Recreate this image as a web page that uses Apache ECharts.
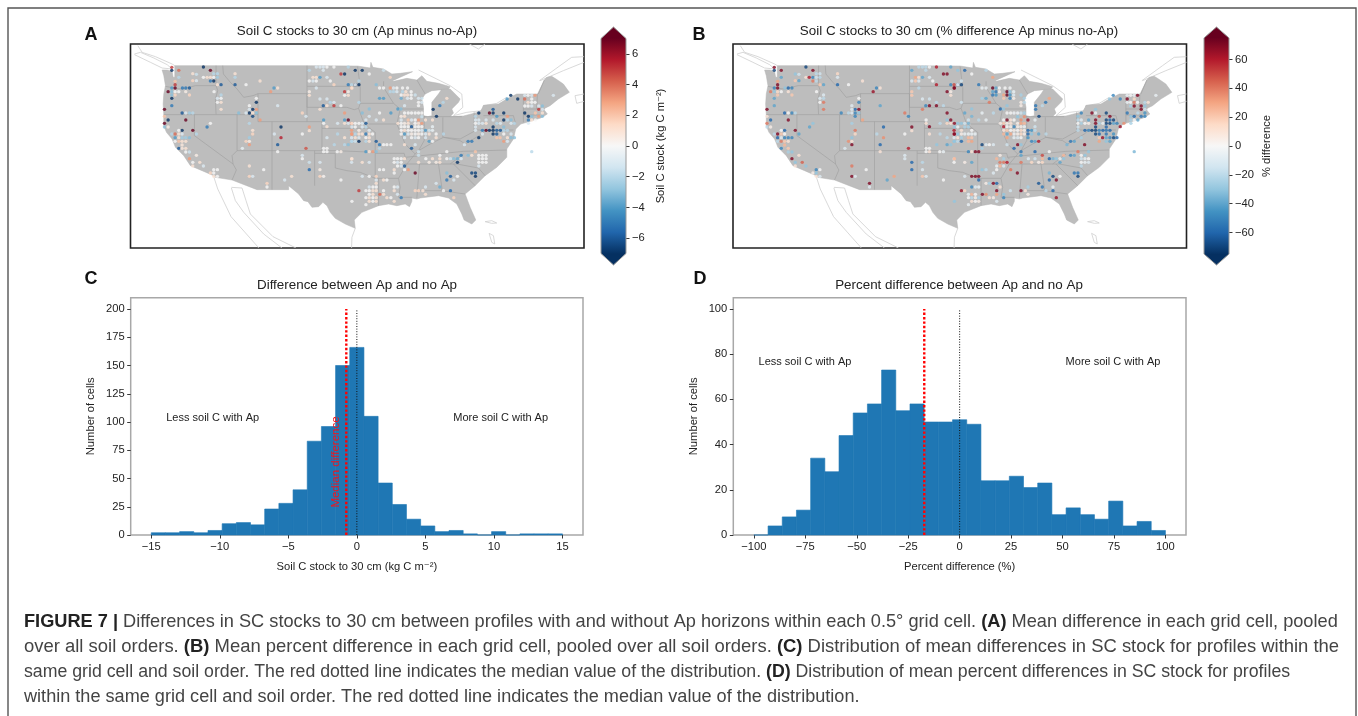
<!DOCTYPE html>
<html><head><meta charset="utf-8">
<style>html,body{margin:0;padding:0;background:#fff}#c{width:1358px;height:716px}</style>
<script src="https://cdn.jsdelivr.net/npm/echarts@6/dist/echarts.min.js"></script>
</head><body><div id="c"></div>
<script>
// ---------- DATA ----------
const histCountsC=[2,2,3,2,4,10,11,9,23,28,40,83,96,150,166,105,46,27,14,8,3,4,1,0,3,0,1,1,1];
const histCountsD=[0,4,8,11,34,28,44,54,58,73,55,58,50,50,51,49,24,24,26,21,23,9,12,9,7,15,4,6,2];
const histRangeC=[-15,15], histRangeD=[-100,100];
const medianC=-0.77, medianD=-17.2;
const xTicksC=[-15,-10,-5,0,5,10,15], yTicksC=[0,25,50,75,100,125,150,175,200];
const xTicksD=[-100,-75,-50,-25,0,25,50,75,100], yTicksD=[0,20,40,60,80,100];
const cbTicksA=[-6,-4,-2,0,2,4,6], cbTicksB=[-60,-40,-20,0,20,40,60];
const rdbu=['#053061','#2166ac','#4393c3','#92c5de','#d1e5f0','#f7f7f7','#fddbc7','#f4a582','#d6604d','#b2182b','#67001f'];
// map geometry, in map units of the panel (1362 x 612)
const landOutline=[[133,65],[530,65],[682,66],[720,72],[722,55],[728,70],[760,75],[785,90],[810,88],[847,83],[787,110],[790,112],[830,103],[860,108],[875,95],[890,112],[925,118],[960,128],[955,135],[905,140],[885,150],[875,165],[880,190],[880,215],[893,218],[905,215],[905,175],[925,150],[935,135],[960,135],[990,165],[985,175],[965,195],[970,207],[960,218],[1000,216],[1050,203],[1058,190],[1060,184],[1105,180],[1130,165],[1160,150],[1222,150],[1225,145],[1243,108],[1250,100],[1265,97],[1278,105],[1300,120],[1318,145],[1285,165],[1260,185],[1240,195],[1252,210],[1232,222],[1190,235],[1172,240],[1157,255],[1150,285],[1130,315],[1130,340],[1100,370],[1065,395],[1035,425],[1005,450],[1020,490],[1037,528],[1025,540],[1002,528],[995,510],[980,480],[955,462],[925,455],[870,462],[860,465],[845,462],[845,472],[838,488],[825,480],[800,485],[775,480],[745,485],[695,505],[672,528],[675,553],[645,540],[615,523],[600,505],[590,485],[578,475],[565,488],[545,490],[533,473],[520,470],[505,450],[475,425],[475,437],[425,437],[380,437],[305,408],[255,400],[245,393],[215,380],[180,365],[160,335],[135,310],[125,285],[108,265],[100,245],[100,210],[98,180],[100,150],[105,125],[100,95],[95,78],[110,78],[125,82],[128,100],[133,100]];
const stateLines=[
[[105,127],[135,133],[155,135],[195,125],[257,125]],
[[257,65],[257,125],[262,140],[255,165],[257,211]],
[[100,212],[383,212]],
[[277,65],[279,90],[300,115],[320,135],[340,160],[368,155],[383,149]],
[[383,149],[383,233],[530,233],[530,149],[383,149]],
[[530,65],[530,190]],
[[530,127],[688,127]],
[[530,190],[650,190],[672,197],[685,193]],
[[530,233],[575,233],[575,253],[720,253]],
[[575,253],[575,320]],
[[192,212],[192,275],[308,360],[318,378],[305,408]],
[[320,212],[320,320],[305,335],[308,360]],
[[320,320],[553,320],[618,320],[735,325]],
[[425,233],[425,437]],
[[553,320],[553,425]],
[[553,328],[615,328],[615,372],[650,380],[690,385],[735,403]],
[[682,68],[690,130],[690,178],[685,193],[700,235],[715,250],[735,265],[735,403]],
[[735,403],[805,403]],
[[745,403],[745,485]],
[[690,178],[790,178]],
[[715,240],[800,240]],
[[760,112],[760,130],[790,178],[810,195],[800,240],[825,300],[855,330],[830,360],[805,403],[810,430],[805,460],[845,460]],
[[810,195],[880,195]],
[[882,215],[882,290],[865,320]],
[[855,330],[865,320],[900,300],[940,280],[990,290],[1005,300]],
[[735,328],[822,328],[825,340],[830,345]],
[[825,340],[1000,322],[1130,318]],
[[825,360],[980,360]],
[[960,360],[1000,330]],
[[868,360],[860,462]],
[[925,360],[935,430],[935,440]],
[[862,440],[935,440],[1005,450]],
[[970,360],[1035,425]],
[[980,360],[1045,372],[1065,395]],
[[938,220],[938,280]],
[[880,218],[995,218]],
[[1032,205],[1032,262]],
[[940,280],[990,285],[1032,262]],
[[1005,300],[1055,270],[1072,255]],
[[1032,258],[1150,258]],
[[1060,215],[1150,215],[1157,240]],
[[1180,160],[1180,235]],
[[1222,150],[1220,195]],
[[1180,195],[1245,195]],
[[1180,213],[1230,213]],
[[1225,150],[1243,108]],
[[860,108],[885,150]]
];
const coastLines=[
[[22,5],[35,25],[75,38],[125,60],[133,65]],
[[12,30],[30,25],[70,42],[110,62],[125,75],[95,72],[60,55],[12,32]],
[[250,398],[262,435],[302,518],[382,608],[385,612]],
[[303,430],[335,432],[347,470],[360,510],[428,578],[497,612]],
[[303,432],[315,470],[340,505],[400,570],[455,612]],
[[675,553],[665,580],[664,612]],
[[865,78],[960,125],[995,150],[998,190],[970,215],[1010,205],[1055,200],[1060,185],[1100,178],[1130,160]],
[[1228,110],[1290,65],[1325,40],[1362,38]],
[[1230,110],[1300,80],[1362,55]],
[[1018,0],[1045,15],[1065,0]],
[[1362,150],[1335,155],[1340,178],[1362,172]],
[[1065,533],[1085,530],[1100,537],[1085,538],[1065,533]],
[[1077,568],[1090,575],[1094,600],[1085,595],[1077,568]]
];
// grid-cell means: [map x, map y, value]
const pointsAWest=[[124,70,5],[124,79,-7],[145,79,4],[219,69,-7],[240,79,7],[187,89,1],[198,91,-1.5],[250,89,-2],[261,89,-2],[219,100,0],[230,100,1],[240,100,1],[250,100,0],[261,100,-2.5],[187,110,1.5],[198,110,-1],[240,111,-5],[250,111,-7],[145,100,-2],[134,112,2],[134,122,5],[272,122,-6],[261,122,1],[124,132,-4],[134,132,7],[156,132,-5],[166,132,-5],[177,132,-6],[113,143,7],[124,143,-3],[134,143,0],[145,143,0],[166,143,0.5],[124,153,-3],[124,163,-7],[134,153,1.5],[177,153,1.5],[251,143,0],[272,153,-2],[261,163,-1],[272,163,0],[261,175,0],[272,175,1],[124,185,-5],[272,196,1],[102,196,7],[155,207,-6],[166,207,-1],[177,207,-2.5],[187,207,-2],[102,217,2],[113,228,-7],[166,228,7],[102,238,7],[102,249,-3],[113,249,0.5],[240,238,0],[230,249,-5],[187,259,7],[155,259,-7],[145,259,0],[145,270,1],[124,270,-2],[134,270,4],[155,270,-1],[198,270,-2],[134,281,-4],[145,281,1],[155,281,-2.5],[166,281,-2.5],[177,281,-3],[134,292,0],[145,292,2],[155,292,1],[166,292,1],[155,303,0.8],[145,313,-6],[155,313,0.8],[166,313,1],[166,324,0],[177,324,-1.5],[198,334,0.5],[177,344,3],[187,355,0],[208,355,1],[187,366,1],[219,366,-1],[240,387,1.5],[250,377,0],[261,377,0],[250,387,0],[250,397,1],[261,397,0],
[314,89,1],[314,100,-2],[314,122,-6],[347,122,0],[389,111,1],[431,132,-4],[442,132,1],[421,143,3],[378,163,0],[378,175,-7],[357,185,0],[378,196,3],[367,196,-7],[357,196,-1],[357,207,-7],[347,207,-1],[367,207,1],[378,207,-3],[325,207,-3],[367,217,-6.5],[389,228,3],[357,238,-2],[442,185,-1],[367,259,1],[367,270,1.5],[357,281,-2.5],[347,292,1.5],[357,292,0.5],[357,302,3],[336,313,-0.5],
[452,249,-7],[452,281,5.5],[442,302,-6],[527,313,4.5],[442,323,0],[516,270,0],[537,249,3],[537,260,1],[432,270,-1],
[357,366,1],[400,377,0],[357,397,1.5],[367,397,-1],[410,418,1.5],[410,429,0],[463,408,-1],[484,397,1],[516,334,-1],[516,344,0],[537,355,-1.5],[537,377,-5.5],[569,355,-1],[569,377,0.5],[569,397,1.5],[580,397,0.2],[580,313,0],[590,313,0],[580,323,0],[590,323,0],[621,323,0],[632,323,0.5],[632,408,0],
[537,79,-2],[558,69,-1],[569,69,-1],[579,69,-1],[590,69,0],[611,69,0],[654,69,-2],[579,79,-1],[632,90,5],[643,90,-7],[548,100,1],[558,100,1],[569,100,-4],[590,100,-1],[537,111,0],[548,111,-1],[558,111,0],[600,111,0],[611,122,1.5],[654,122,-5],[664,122,-2],[675,122,-7],[558,132,-1],[664,132,2],[537,143,0.5],[537,154,1],[643,143,5],[654,143,0.5],[654,154,1],[643,154,0],[569,165,-1],[590,165,-1],[611,175,-1],[590,185,1],[579,185,-6],[611,185,5],[632,185,0],[600,175,-2],[569,196,1],[643,207,3],[516,207,1.5],[527,217,-1],[580,228,-4],[643,228,-4],[654,228,7],[664,238,3],[580,238,0],[590,248,1],[622,238,-1],[643,238,1],[654,238,-1],[664,259,3],[664,270,3],[622,270,-2],[643,281,1],[664,281,-1],[590,281,-1],[612,302,-2],[643,302,-2],[654,302,-3],[664,292,-2],[664,345,1],[664,355,-1]];
const pointsAEast=[[15,79,-7],[36,79,-7],[57,90,0],[100,79,-1.5],[120,100,1.5],[26,111,-2],[15,122,0],[26,122,-7],[5,132,1],[78,122,-3],[88,132,0],[100,132,0],[120,132,3],[130,132,-1],[140,132,0],[157,132,0],[172,132,0],[130,143,-2],[120,143,-2],[140,143,-1],[157,143,-2],[167,143,1],[183,143,0],[153,153,0],[163,153,1],[172,153,1],[183,153,0],[153,163,-3.5],[172,163,-1],[183,163,0],[88,163,-4],[100,163,-4],[205,163,-1],[215,163,-1.5],[195,153,-1.5],[205,175,0],[215,175,-1],[205,185,0],[163,185,-1],[143,195,-4],[152,195,-3],[122,207,-4],[57,195,-3],[26,175,-2],[36,207,-3],[88,207,0],[57,217,-1],[47,228,-1],[47,238,-6],[78,228,-1],[100,228,1],
[163,207,0],[174,207,0],[184,207,0],[195,207,0],[205,207,0],[215,207,0],[153,217,0.5],[163,217,1],[174,228,2],[184,228,-1],[195,228,0],[205,228,3],[215,218,-1.5],[226,228,1],[247,228,1],[153,228,-1],[143,238,1],[153,238,0],[163,238,0.5],[174,238,1],[184,248,-6],[195,238,0],[205,238,1],[215,238,3],[153,248,0],[163,248,0],[174,248,0],[195,248,0],[205,248,0],[215,248,0],[226,259,-4],[237,259,-1.5],[247,259,-0.5],[247,248,-0.5],[153,259,0],[163,259,1],[174,259,0],[184,259,0],[195,259,0],[205,259,0],[215,259,-1],[153,270,0],[163,270,-4],[184,270,0.5],[195,270,0],[205,270,0.5],[215,270,0],[226,270,-1],[237,270,1],[258,270,0],[280,270,-2],[174,270,-1],[163,281,-1],[184,281,0],[195,281,-1],[205,281,0],[226,281,-1],[237,292,-4],[247,292,0],[258,281,1],[163,302,1],[184,313,-6],[195,302,-1],[205,323,-1.5],[205,334,-1.5],
[249,196,-7],[269,185,-5],[279,175,-2],[290,163,1],[259,217,-7],
[5,238,1],[15,238,0],[26,238,0],[36,238,-1],[5,249,-1],[15,249,0],[26,259,0.5],[36,249,-1],[47,249,-2],[57,259,-1],[5,270,3],[15,270,-2],[26,270,1],[36,270,1],[47,270,-5],[57,270,1],[67,270,0],[15,281,1],[26,281,-1],[47,281,0],[57,281,1],[5,292,-2],[15,292,-1.5],[26,292,-7],[47,292,-2],[57,292,1],[78,292,-6],[88,302,-5],[100,302,0],[110,302,0],[122,302,0],[88,313,-2],[47,323,-4],[57,323,1],[68,323,3],[78,323,-3],[5,344,1],[36,355,1],[57,355,-1],[88,377,0],[100,377,0],[132,377,1],[142,355,-1],[132,344,0],[142,344,0],[153,344,0],[163,344,1],[132,355,0],[153,355,0],[142,366,0],[153,366,-1],[163,366,-6],[174,377,3],[132,387,0],[163,377,0],[195,387,7],[36,397,-1],[57,397,0],[78,397,1.5],
[26,440,5],[78,408,-1],[78,418,1],[68,429,0],[78,429,0],[100,408,1],[110,408,0],[57,429,-1],[47,440,0],[57,440,0],[68,440,1],[78,440,1],[100,440,0],[132,440,1],[132,429,0],[142,429,-1],[57,451,0],[68,451,1],[89,451,4],[100,451,1],[47,461,0],[57,461,1],[68,461,0],[78,461,1],[110,461,1],[122,461,0],[153,461,-5],[142,451,-1],[57,472,1],[68,472,0],[78,472,1],[132,472,1],[47,482,0],[5,472,0],
[195,440,1.5],[205,440,1.5],[218,440,1],[226,429,-1],[226,451,1],[258,418,-1],[269,429,-3.5],[290,387,-3],[290,408,-5],[301,397,-6],[301,440,-5.5],[311,408,-1],[322,397,0],[311,461,1.5],[280,440,0],
[365,387,-6.5],[376,387,-6.5],[376,397,-7],
[227,344,0],[237,355,0.5],[247,344,1],[269,344,1],[269,355,1],[205,355,1],[290,344,0],[301,344,-1.5],[311,344,-3],[322,344,-3.5],[322,355,-7],[333,334,-5],[333,344,-1],[354,334,-3],[365,334,1],[376,323,2],[386,334,0],[397,334,0],[408,334,0],[386,344,0],[397,344,0],[408,344,0],[386,355,0],[397,355,0],[408,355,0],[386,366,-1],[290,323,0],[269,334,0],[258,355,0.5],
[343,302,-1],[354,292,-5],[365,292,-5],[386,281,-7],[397,270,-1],[408,259,7],[418,259,-7],[429,249,-7],[429,259,-7],[429,270,-7],[440,259,-6],[440,270,-6],[451,259,-6],[461,249,-3],[461,259,-2],[461,270,0],[472,259,-2],[483,270,-1],[450,281,2],[461,292,3],[472,292,-1],[472,281,1],[483,281,-3],[493,281,-3],[440,281,2],
[376,217,-2],[376,228,-1],[376,238,0],[376,249,-1],[386,207,-7],[386,228,-1],[386,238,-1],[397,238,-1],[408,238,1],[408,228,-1],[418,207,7],[429,196,-6],[429,207,-7],[440,217,-4],[461,207,-7],[461,228,-7],[472,217,3],[472,228,-2],[483,228,-3],[483,238,-1],[493,238,-2],[440,238,-2],[429,228,-1],[451,238,-1],[397,259,-5],[376,259,-1],
[482,154,-7],[503,165,-7],[471,165,-4],[524,154,-1],[534,154,0],[545,154,-1],[555,154,3],[524,165,4],[545,165,0],[534,175,1],[545,175,0],[555,175,0],[524,186,0],[534,186,0],[545,186,-1],[566,186,-1],[566,196,5],[577,186,-3],[524,207,-7],[535,217,-7],[535,228,-5],[545,217,-3],[556,207,2],[566,217,3],[577,207,1],[577,217,-3],[577,196,-1],[545,228,1],[556,228,0],[535,238,-1],[610,154,-1],[545,323,-2]];
const pointsBWest=[[124,70,70],[124,79,-70],[145,79,70],[219,69,-70],[240,79,70],[187,90,-30],[198,91,-15],[250,89,-20],[261,89,-15],[219,100,10],[229,100,60],[240,100,-50],[250,100,-15],[261,100,-20],[187,110,20],[198,110,-40],[240,111,40],[250,111,-20],[145,100,-40],[134,112,30],[134,122,70],[272,122,-40],[261,122,20],[124,132,-50],[134,132,70],[156,132,-30],[166,132,-60],[177,132,-50],[113,143,40],[124,143,-30],[134,143,15],[145,143,0],[166,143,10],[124,163,-40],[134,153,20],[177,153,20],[251,143,0],[272,153,-10],[261,163,-10],[272,163,-20],[261,175,0],[272,175,40],[124,185,-40],[272,196,40],[102,196,70],[155,207,-60],[166,207,0],[177,207,-50],[187,207,-20],[102,217,10],[113,228,-60],[166,228,70],[102,238,40],[102,249,-20],[113,249,5],[240,238,-30],[230,249,-40],[187,259,70],[155,259,-60],[145,259,0],[145,270,20],[124,270,-20],[134,270,70],[155,270,0],[198,270,-40],[134,281,-60],[145,281,-10],[155,281,-50],[166,281,-50],[177,281,-50],[134,292,-20],[145,292,40],[155,292,20],[166,292,10],[155,303,25],[145,313,-50],[166,313,20],[166,324,-25],[177,324,-30],[198,334,10],[177,344,70],[187,355,-30],[208,355,45],[187,366,10],[219,366,-30],[240,387,5],[250,377,-50],[261,377,0],[250,387,-30],[250,397,10],[261,397,-10],
[314,89,15],[314,100,-10],[314,122,-60],[347,122,0],[389,111,10],[431,132,-50],[442,132,10],[421,143,65],[378,163,0],[378,175,-50],[357,185,-10],[378,196,70],[367,196,-60],[357,196,-10],[357,207,-10],[347,207,-20],[367,207,-50],[378,207,-30],[325,207,-50],[367,217,-50],[389,228,30],[357,238,-25],[442,185,-40],[367,259,40],[367,270,15],[357,281,-30],[347,292,35],[357,292,10],[357,302,70],[336,313,-10],
[452,249,-60],[452,281,35],[442,302,-60],[527,313,60],[442,323,10],[516,270,0],[537,249,70],[537,260,10],[432,270,-20],
[357,366,40],[400,377,0],[357,397,70],[367,397,-10],[410,418,70],[410,429,-10],[463,408,-40],[484,397,30],[516,334,-10],[516,344,-10],[537,355,-60],[537,377,-60],[569,355,-20],[569,377,-10],[569,397,20],[580,397,-10],[580,313,0],[590,313,0],[580,323,0],[590,323,10],[621,323,0],[632,323,-5],[632,408,0],
[537,79,-40],[558,69,-20],[569,69,-20],[579,69,-20],[590,69,0],[611,69,60],[654,69,-40],[579,79,-20],[632,90,70],[643,90,70],[548,100,30],[558,100,10],[569,100,-40],[590,100,-10],[537,111,-10],[548,111,20],[558,111,-10],[600,111,0],[611,122,60],[654,122,-50],[664,122,50],[675,122,-60],[558,132,-20],[664,132,70],[537,143,20],[537,154,20],[643,143,70],[654,143,5],[654,154,10],[569,165,-10],[590,165,-15],[611,175,-20],[590,185,70],[579,185,-50],[611,185,70],[632,185,-20],[569,196,40],[643,207,70],[516,207,40],[527,217,-50],[580,228,0],[643,228,-30],[654,228,70],[664,238,10],[580,238,10],[590,248,70],[622,238,-20],[643,238,15],[654,238,10],[664,259,60],[664,270,60],[622,270,-20],[643,281,-20],[664,281,-10],[590,270,10],[612,302,-30],[643,302,-40],[654,302,-30],[664,292,-30],[664,345,10],[664,355,0]];
const pointsBEast=[[15,79,-30],[36,79,-60],[57,90,0],[100,79,-20],[120,100,30],[26,111,-15],[15,122,0],[26,122,-70],[5,132,70],[78,122,-55],[88,132,-5],[100,132,-5],[120,132,75],[130,132,-40],[140,132,0],[157,132,0],[172,132,-2],[120,143,-40],[130,143,-55],[140,143,5],[163,143,75],[172,143,-30],[183,143,-5],[120,153,-55],[130,153,-45],[153,153,30],[163,153,75],[172,153,-45],[183,153,-10],[110,175,40],[100,163,-40],[88,163,-25],[153,163,20],[172,163,-50],[183,163,5],[205,153,-25],[215,163,-25],[205,175,5],[215,175,-20],[205,185,5],[163,185,-30],[143,195,-60],[152,195,-30],[122,207,-20],[57,195,-30],[26,175,-15],[36,207,-40],[88,207,-5],[57,217,-35],[47,228,-15],[47,238,-35],[78,228,-20],[100,228,-5],
[163,207,0],[174,207,0],[184,207,-3],[195,207,-3],[205,207,-15],[215,207,-25],[153,228,0],[163,228,70],[174,228,10],[184,228,0],[195,218,-30],[205,228,35],[215,218,35],[226,228,65],[247,228,-5],[143,238,5],[153,238,20],[163,238,5],[174,238,10],[184,248,-50],[195,238,5],[205,238,30],[215,238,25],[153,248,60],[163,248,0],[174,248,5],[195,248,5],[205,248,5],[215,248,-5],[226,259,-60],[237,259,-45],[247,259,-20],[247,248,-15],[153,259,10],[163,259,20],[174,259,0],[184,259,5],[195,259,0],[205,259,15],[215,259,5],[153,270,25],[163,270,-40],[184,270,-3],[195,270,5],[205,270,15],[215,270,5],[226,270,-60],[237,270,-30],[258,270,-40],[280,270,-20],[174,270,30],[163,281,30],[184,281,-5],[195,281,-10],[205,281,0],[226,281,-45],[237,292,-50],[247,292,-40],[258,292,60],[163,302,-15],[195,302,70],[205,302,-30],[184,313,-60],[205,323,-55],[205,334,-40],
[249,185,-55],[249,196,-55],[269,185,-20],[279,175,-55],[290,163,30],[259,217,-70],
[5,238,70],[15,238,-30],[26,238,-30],[36,238,-15],[5,249,-30],[15,249,-5],[26,259,10],[36,249,-25],[47,249,-25],[57,259,0],[5,270,70],[15,270,-30],[26,270,5],[36,270,-5],[47,270,-5],[57,270,-5],[67,270,-5],[15,281,10],[26,281,-25],[47,281,25],[57,281,20],[5,292,-30],[15,292,-20],[26,292,-60],[47,292,25],[57,292,30],[88,302,-70],[100,302,-10],[110,302,0],[122,302,-10],[88,313,-25],[47,323,-50],[57,323,10],[68,323,70],[78,323,70],[5,344,25],[36,355,5],[57,355,-40],[100,377,-20],[88,377,-30],[132,377,0],[142,334,5],[132,344,25],[153,344,-25],[142,355,40],[153,355,40],[163,355,60],[132,366,-5],[142,366,25],[153,366,-10],[174,377,40],[122,387,-10],[194,387,70],[36,397,-10],[57,397,70],[68,397,70],[78,397,70],[78,408,-60],
[26,440,65],[36,440,15],[57,429,-50],[68,429,-10],[78,429,-5],[100,418,5],[110,418,-25],[122,418,70],[132,418,-60],[132,440,70],[142,429,10],[47,451,-5],[57,451,25],[68,451,0],[89,451,70],[100,451,35],[47,461,0],[57,461,-20],[68,461,5],[78,461,-25],[110,461,10],[122,461,5],[132,451,30],[153,451,-30],[153,461,-50],[57,472,10],[68,472,0],[78,472,5],[132,472,-10],[47,482,-5],[5,472,-30],
[173,440,-15],[205,440,70],[218,440,10],[226,429,-25],[226,451,5],[258,418,-65],[269,429,-55],[290,387,-35],[290,408,-60],[301,397,-70],[311,408,70],[301,429,-5],[301,440,-60],[280,440,-20],[322,397,0],[311,461,65],
[365,387,-55],[376,387,-55],[376,397,-70],
[227,344,-10],[247,323,-60],[237,355,15],[247,344,-15],[269,334,50],[269,344,25],[269,355,15],[205,355,40],[290,344,-60],[301,344,-35],[311,344,-30],[322,344,-5],[322,355,-40],[333,334,25],[333,344,-30],[354,334,-50],[365,334,-40],[376,323,40],[386,334,0],[397,334,-30],[408,323,-30],[386,344,-15],[397,344,-5],[408,344,0],[386,355,0],[397,355,-5],[408,355,-10],[386,366,-20],[290,323,0],[258,355,5],
[343,302,-35],[354,292,-55],[365,292,-40],[396,302,70],[386,281,-25],[397,259,-60],[408,259,-50],[418,259,-70],[429,249,-70],[429,259,-70],[429,270,-70],[440,259,-50],[440,270,-60],[451,259,-60],[461,249,-60],[461,259,-55],[461,270,-55],[472,259,-60],[483,270,-45],[450,281,65],[461,281,-40],[461,292,-30],[472,292,-40],[472,281,-50],[483,281,-70],[493,281,-60],[440,281,20],[440,292,30],
[376,217,-30],[376,228,-20],[376,238,0],[376,249,-15],[386,207,-50],[386,228,-10],[386,238,-25],[397,238,0],[408,238,5],[408,228,-40],[418,207,70],[429,196,-30],[429,207,-5],[440,217,50],[461,207,-70],[461,228,-70],[461,238,-70],[472,217,70],[472,228,-60],[472,238,-70],[483,228,-70],[483,238,-40],[493,238,-50],[503,248,65],[514,238,35],[440,238,-25],[429,228,70],[451,238,-5],[429,238,70],[376,259,-20],
[482,154,-50],[503,165,-50],[471,165,-30],[524,154,-5],[534,154,0],[545,154,-5],[555,154,70],[524,165,70],[545,165,15],[524,175,-5],[534,175,0],[545,175,40],[555,175,0],[534,186,-25],[545,186,70],[566,186,70],[566,196,70],[577,186,-30],[577,175,-20],[587,175,10],[524,207,-55],[535,217,-30],[535,228,-25],[545,217,-60],[556,207,-20],[566,217,-55],[577,207,-45],[577,217,-50],[577,196,-15],[545,228,0],[556,228,-40],[535,238,-25],[610,154,-5],[545,323,-35]];
const eastCropOffset=660;
const captionLines=[
[['b','FIGURE 7 | '],['n','Differences in SC stocks to 30 cm between profiles with and without Ap horizons within each 0.5° grid cell. '],['b','(A)'],['n',' Mean difference in each grid cell, pooled']],
[['n','over all soil orders. '],['b','(B)'],['n',' Mean percent difference in each grid cell, pooled over all soil orders. '],['b','(C)'],['n',' Distribution of mean differences in SC stock for profiles within the']],
[['n','same grid cell and soil order. The red dotted line indicates the median value of the distribution. '],['b','(D)'],['n',' Distribution of mean percent differences in SC stock for profiles']],
[['n','within the same grid cell and soil order. The red dotted line indicates the median value of the distribution.']]];

// ---------- CHART ----------
const FONT='"Liberation Sans",Arial,"DejaVu Sans",sans-serif';
const MAPW=1362,MAPH=612;
const merge=(w,e)=>w.concat(e.map(p=>[p[0]+eastCropOffset,p[1],p[2]]));
const minusFmt=v=>String(v).replace('-','\u2212');
const chart=echarts.init(document.getElementById('c'),null,{renderer:'canvas'});

function shapeSeries(shapes,idx,closed,style,z){
  return {type:'custom',xAxisIndex:idx,yAxisIndex:idx,silent:true,clip:true,z:z,animation:false,
    data:shapes.map((s,i)=>[i]),
    renderItem:(p,api)=>({type:closed?'polygon':'polyline',
      shape:{points:shapes[p.dataIndex].map(v=>api.coord(v))},style:style})};
}
function mapSeries(idx,pts){
  return [
    shapeSeries(coastLines,idx,false,{fill:'none',stroke:'#cfcfcf',lineWidth:0.8},1),
    shapeSeries([landOutline],idx,true,{fill:'#bdbdbd',stroke:'#b5b5b5',lineWidth:0.5},2),
    shapeSeries(stateLines,idx,false,{fill:'none',stroke:'#a2a2a2',lineWidth:0.7},3),
    {type:'scatter',xAxisIndex:idx,yAxisIndex:idx,data:pts,symbolSize:3.4,z:4,silent:true,animation:false,clip:true,encode:{x:0,y:1}}
  ];
}
function colorbarSeries(idx,limit,tip){
  const hex=[[0,limit],[0.5,tip],[1,limit],[1,-limit],[0.5,-tip],[0,-limit]];
  const span=tip*2;
  const stops=[];
  rdbu.forEach((c,i)=>{const v=limit-i*2*limit/(rdbu.length-1);
     stops.push({offset:(tip-v)/span,color:rdbu[rdbu.length-1-i]});});
  stops.unshift({offset:0,color:rdbu[rdbu.length-1]});
  stops.push({offset:1,color:rdbu[0]});
  return {type:'custom',xAxisIndex:idx,yAxisIndex:idx,silent:true,clip:false,animation:false,z:2,data:[[0]],
    renderItem:(p,api)=>({type:'polygon',shape:{points:hex.map(v=>api.coord(v))},
      style:{fill:new echarts.graphic.LinearGradient(0,0,0,1,stops),stroke:'#9a9a9a',lineWidth:1}})};
}
function histSeries(idx,counts,range){
  const w=(range[1]-range[0])/counts.length;
  const rows=counts.map((c,i)=>[range[0]+i*w,range[0]+(i+1)*w,c]);
  return {type:'custom',xAxisIndex:idx,yAxisIndex:idx,silent:true,animation:false,z:2,data:rows,encode:{x:[0,1],y:2},
    renderItem:(p,api)=>{const a=api.coord([api.value(0),0]),b=api.coord([api.value(1),api.value(2)]);
      return {type:'rect',shape:{x:a[0],y:b[1],width:b[0]-a[0],height:a[1]-b[1]},style:{fill:'#1f77b4',stroke:'#1f77b4',lineWidth:0.6}};}};
}
function vline(idx,x,top,color,width,dash){
  return {type:'line',xAxisIndex:idx,yAxisIndex:idx,data:[[x,0],[x,top]],symbol:'none',silent:true,animation:false,z:5,
    lineStyle:{color:color,width:width,type:dash}};
}
const tick={show:true,length:3.5,lineStyle:{color:'#222',width:0.9}};
const noLine={show:false,onZero:false};
function histAxes(xr,yr,xt,yt,name,gi){
  return {x:{type:'value',gridIndex:gi,position:'bottom',min:xr[0],max:xr[1],axisLine:noLine,splitLine:{show:false},
      axisTick:Object.assign({customValues:xt},tick),
      axisLabel:{customValues:xt,formatter:minusFmt,fontFamily:FONT,fontSize:11.2,color:'#222',margin:6},
      name:name,nameLocation:'middle',nameGap:26,nameTextStyle:{fontFamily:FONT,fontSize:11.2,color:'#222'}},
    y:{type:'value',gridIndex:gi,position:'left',min:yr[0],max:yr[1],axisLine:noLine,splitLine:{show:false},
      axisTick:Object.assign({customValues:yt},tick),
      axisLabel:{customValues:yt,formatter:minusFmt,fontFamily:FONT,fontSize:11.2,color:'#222',margin:6},
      name:'Number of cells',nameLocation:'middle',nameGap:34,nameRotate:90,nameTextStyle:{fontFamily:FONT,fontSize:11.2,color:'#222'}}};
}
function mapAxes(gi){
  return {x:{type:'value',gridIndex:gi,min:0,max:MAPW,show:false},y:{type:'value',gridIndex:gi,min:0,max:MAPH,inverse:true,show:false}};
}
function cbAxes(gi,tip,ticks){
  return {x:{type:'value',gridIndex:gi,min:0,max:1,show:false},
    y:{type:'value',gridIndex:gi,min:-tip,max:tip,position:'right',axisLine:noLine,splitLine:{show:false},
      axisTick:Object.assign({customValues:ticks},tick),
      axisLabel:{customValues:ticks,formatter:minusFmt,fontFamily:FONT,fontSize:11.2,color:'#222',margin:6}}};
}
const axes=[mapAxes(0),mapAxes(1),cbAxes(2,7.75,cbTicksA),cbAxes(3,82.6,cbTicksB),
  histAxes([-16.5,16.5],[0,210],xTicksC,yTicksC,'Soil C stock to 30 cm (kg C m\u207B\u00B2)',4),
  histAxes([-110,110],[0,105],xTicksD,yTicksD,'Percent difference (%)',5)];
const frameDark={show:true,borderColor:'#222',borderWidth:1.6,backgroundColor:'#fff'};
const frameGrey={show:true,borderColor:'#a8a8a8',borderWidth:1.5,backgroundColor:'#fff'};
const box=(l,t,r,b,extra)=>Object.assign({left:l,top:t,width:r-l,height:b-t,containLabel:false},extra||{});

function txt(text,x,y,size,extra){
  return Object.assign({type:'text',silent:true,x:x,y:y,z:20,style:Object.assign({text:text,fontFamily:FONT,fontSize:size,fill:'#222',textAlign:'center',textVerticalAlign:'middle'},extra||{})});
}
const graphics=[
 {type:'polyline',silent:true,z:20,shape:{points:[[8,716],[8,8],[1356,8],[1356,716]]},style:{fill:'none',stroke:'#555',lineWidth:1.4}},
 txt('A',91,35,18,{fontWeight:'bold',fill:'#111'}),txt('B',699,35,18,{fontWeight:'bold',fill:'#111'}),
 txt('C',91,279,18,{fontWeight:'bold',fill:'#111'}),txt('D',700,279,18,{fontWeight:'bold',fill:'#111'}),
 txt('Soil C stocks to 30 cm (Ap minus no-Ap)',357,31,13.4),
 txt('Soil C stocks to 30 cm (% difference Ap minus no-Ap)',959,31,13.4),
 txt('Difference between Ap and no Ap',357,285,13.4),
 txt('Percent difference between Ap and no Ap',959,285,13.4),
 txt('Less soil C with Ap',212.7,418,11),txt('More soil C with Ap',500.7,418,11),
 txt('Less soil C with Ap',805,361.7,11),txt('More soil C with Ap',1113,361.7,11),
 Object.assign(txt('Median difference',336,462,11.5,{fill:'#f0141c'}),{rotation:Math.PI/2}),
 Object.assign(txt('Soil C stock (kg C m\u207B\u00B2)',661,146,11.2),{rotation:Math.PI/2}),
 Object.assign(txt('% difference',1267,146,11.2),{rotation:Math.PI/2})
];
const CAPTION_Y=[622,647,672,697];
const CAPTION_SIZE=[18.2,18.45,17.72,18.12];
captionLines.forEach((segs,i)=>{
  const fs=CAPTION_SIZE[i];
  graphics.push({type:'text',silent:true,x:24,y:CAPTION_Y[i],z:20,style:{
    text:segs.map(s=>'{'+s[0]+'|'+s[1]+'}').join(''),textAlign:'left',textVerticalAlign:'middle',
    rich:{n:{fontFamily:FONT,fontSize:fs,fill:'#444',color:'#444'},b:{fontFamily:FONT,fontSize:fs,fontWeight:'bold',fill:'#222',color:'#222'}}}});
});

chart.setOption({
  animation:false,backgroundColor:'#fff',
  grid:[box(130.5,44,584,248,frameDark),box(733,44,1186.5,248,frameDark),
        box(601,27,626,265),box(1204,27,1229,265),
        box(130.7,297.7,583,535,frameGrey),box(733.3,297.7,1186,535,frameGrey)],
  xAxis:axes.map(a=>a.x),yAxis:axes.map(a=>a.y),
  visualMap:[
    {show:false,type:'continuous',seriesIndex:3,dimension:2,min:-7,max:7,inRange:{color:rdbu}},
    {show:false,type:'continuous',seriesIndex:7,dimension:2,min:-75,max:75,inRange:{color:rdbu}}],
  series:[].concat(
    mapSeries(0,merge(pointsAWest,pointsAEast)),
    mapSeries(1,merge(pointsBWest,pointsBEast)),
    [colorbarSeries(2,7,7.75),colorbarSeries(3,75,82.6),
     histSeries(4,histCountsC,histRangeC),
     vline(4,0,200,'#111',1,[1,1.6]),vline(4,medianC,200,'#f00',2.4,[2.4,2]),
     histSeries(5,histCountsD,histRangeD),
     vline(5,0,100,'#111',1,[1,1.6]),vline(5,medianD,100,'#f00',2.4,[2.4,2])]),
  graphic:graphics
});
</script></body></html>
